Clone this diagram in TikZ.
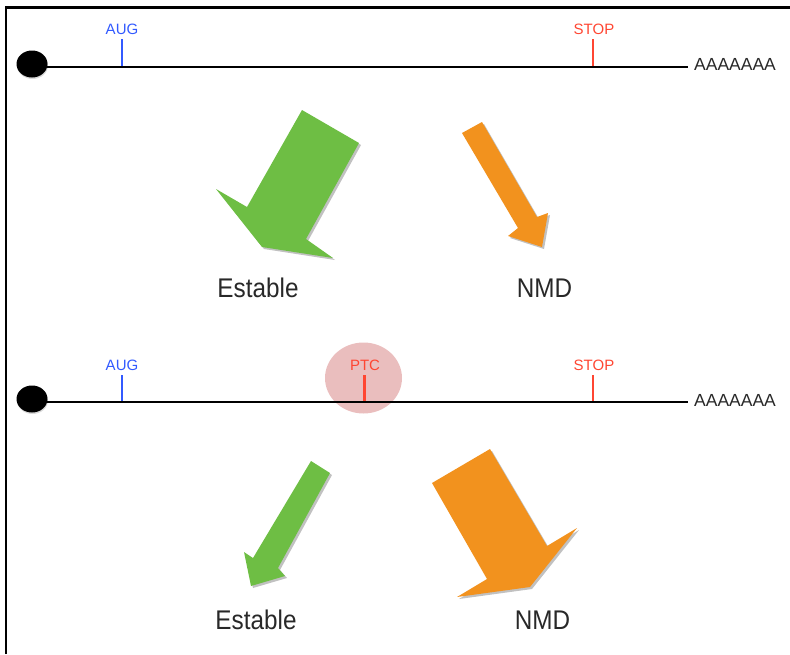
\documentclass[tikz,border=0pt]{standalone}
\usepackage{fontspec}
\setmainfont{Liberation Sans}
\usetikzlibrary{shadows}
\definecolor{augblue}{RGB}{50,90,255}
\definecolor{stopred}{RGB}{255,70,50}
\definecolor{arrgreen}{RGB}{110,190,68}
\definecolor{arrorange}{RGB}{242,146,30}
\definecolor{ptcpink}{RGB}{234,190,190}
\definecolor{txtgray}{RGB}{40,40,40}
\tikzset{
  frame/.style={line width=2.6pt, black},
  tline/.style={line width=2.4pt, black},
  tick/.style={line width=2.2pt},
  small/.style={font=\fontsize{15}{15}\selectfont, anchor=base},
  polyA/.style={font=\fontsize{17.5}{17.5}\selectfont, text=txtgray, anchor=base west, inner sep=0pt},
  big/.style={font=\fontsize{27}{27}\selectfont, text=txtgray, anchor=base, inner sep=0pt},
  shade/.style={drop shadow={shadow xshift=2pt, shadow yshift=-2pt, opacity=0.35, fill=black!70}},
  dot/.style={fill=black, drop shadow={shadow xshift=0.5pt, shadow yshift=-1.5pt, opacity=0.3}}
}
\begin{document}
\begin{tikzpicture}[x=1pt,y=-1pt]
\useasboundingbox (0,0) rectangle (790,654);
% frame
\draw[frame] (6,654) -- (6,7.5) -- (790,7.5);

% ---------- timeline 1 ----------
\fill[dot] (32,64) ellipse [x radius=15.5, y radius=13.5];
\coordinate (s1) at (40,66.7);
\coordinate (e1) at (688,66.7);
\draw[tline] (s1) -- (e1);
\draw[tick, augblue] (122,39) -- (122,66);
\node[small, text=augblue] (aug1) at (122,34.5) {AUG};
\draw[tick, stopred] (593,39) -- (593,66);
\node[small, text=stopred] (stop1) at (594,34.5) {STOP};
\node[polyA] (polya1) at (694,70.7) {AAAAAAA};

% big green arrow (top)
\fill[arrgreen, shade] (302,110) -- (359,143) -- (306,239) -- (333,258) -- (262,247) -- (216,189) -- (247,207) -- cycle;
% orange arrow (top)
\fill[arrorange, shade] (462,133) -- (482,122) -- (537,217) -- (548,213) -- (542,247) -- (508,236) -- (518,228) -- cycle;

\node[big] (est1) at (258,297) {\scalebox{0.9}[1]{Estable}};
\node[big] (nmd1) at (544.5,297) {\scalebox{0.9}[1]{NMD}};

% ---------- timeline 2 ----------
\fill[ptcpink] (363.5,378) ellipse [x radius=38.5, y radius=35.5];
\fill[dot] (32,399) ellipse [x radius=15.5, y radius=13.5];
\coordinate (s2) at (40,402);
\coordinate (e2) at (688,402);
\draw[tline] (s2) -- (e2);
\draw[tick, augblue] (122,375) -- (122,401);
\node[small, text=augblue] (aug2) at (122,370.5) {AUG};
\draw[tick, stopred] (364.5,375) -- (364.5,401);
\node[small, text=stopred] (ptc) at (365,370.5) {PTC};
\draw[tick, stopred] (593,375) -- (593,401);
\node[small, text=stopred] (stop2) at (594,370.5) {STOP};
\node[polyA] (polya2) at (694,406) {AAAAAAA};

% small green arrow (bottom)
\fill[arrgreen, shade] (311,461) -- (330,473) -- (278,568) -- (285,576) -- (251,586) -- (244,552) -- (253,558) -- cycle;
% big orange arrow (bottom)
\fill[arrorange, shade] (432,483) -- (490,449) -- (547,546) -- (577,528) -- (530,587) -- (457,597) -- (487,579) -- cycle;

\node[big] (est2) at (256,629) {\scalebox{0.9}[1]{Estable}};
\node[big] (nmd2) at (542.5,629) {\scalebox{0.9}[1]{NMD}};
\end{tikzpicture}
\end{document}
